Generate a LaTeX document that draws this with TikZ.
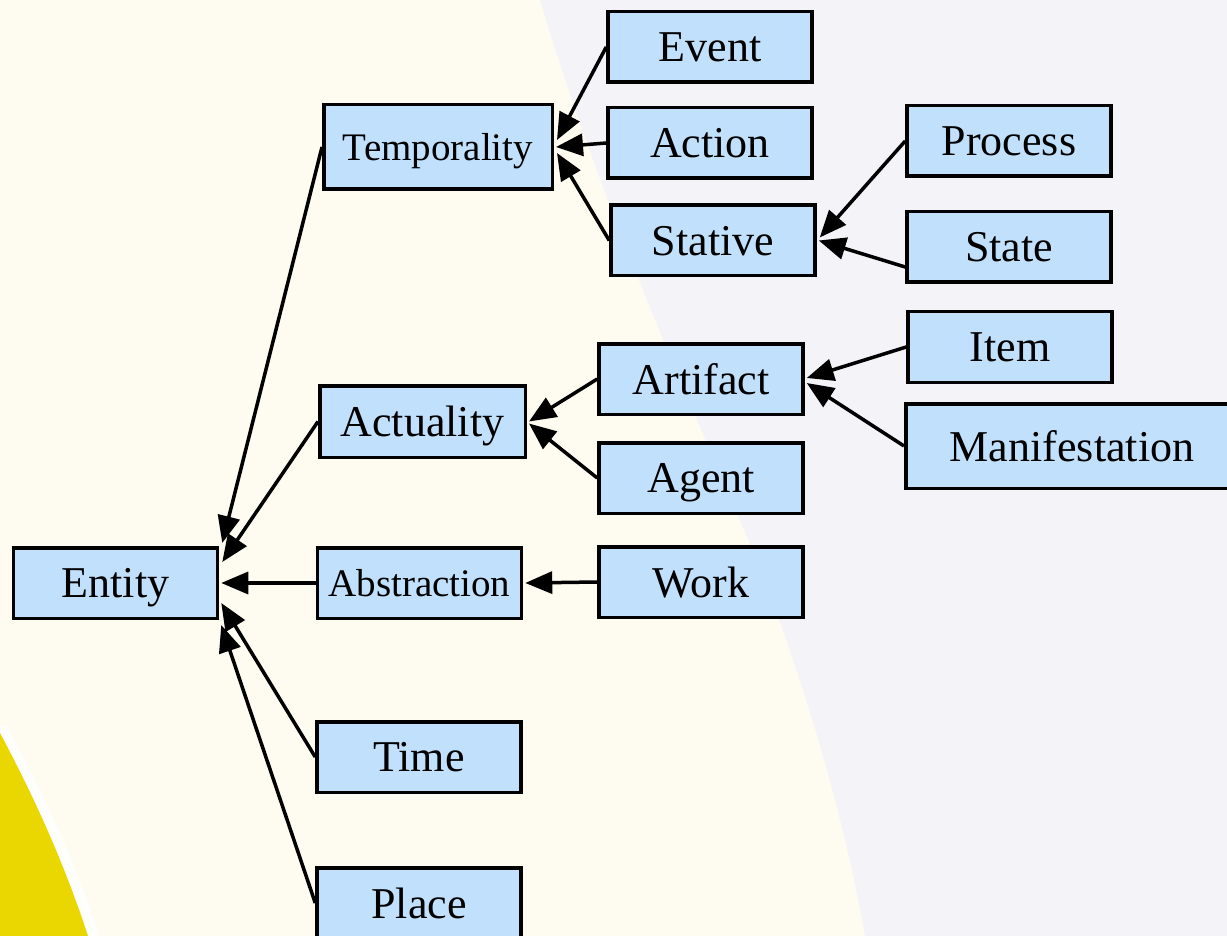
\documentclass[tikz,border=0pt]{standalone}
\usepackage{fontspec}
\setmainfont{Liberation Serif}
\usetikzlibrary{arrows.meta,calc}
\definecolor{cream}{RGB}{254,252,240}
\definecolor{greybg}{RGB}{243,243,248}
\definecolor{yell}{RGB}{234,214,0}
\definecolor{boxblue}{RGB}{192,224,252}
\begin{document}
\begin{tikzpicture}[x=1pt,y=-1pt,
  box/.style={draw=black,line width=3.5pt,fill=boxblue,inner sep=0pt,text depth=0pt,
    minimum width=204pt,minimum height=70.5pt,font=\fontsize{44}{50}\selectfont},
  smallbox/.style={box,font=\fontsize{39}{45}\selectfont},
  conn/.style={line width=3.5pt,-{Triangle[length=27pt,width=22pt]}}]
\useasboundingbox (0,0) rectangle (1227,936);
\clip (0,0) rectangle (1227,936);
% background
\fill[cream] (0,0) rectangle (1227,936);
\fill[greybg] (540,0) .. controls (600,200) and (680,380) .. (740,520)
  .. controls (800,660) and (845,820) .. (865,936) -- (1227,936) -- (1227,0) -- cycle;
\draw[white,opacity=0.8,line width=14pt] (0,728) .. controls (25,775) and (62,845) .. (92,936);
\fill[yell] (0,733) .. controls (25,780) and (60,850) .. (88,936) -- (0,936) -- cycle;
% nodes
\node[box] (entity) at (115.5,583) {Entity};
\node[smallbox,minimum width=228.5pt,minimum height=84.5pt] (temporality) at (438,147) {Temporality};
\node[box,minimum width=205.5pt,minimum height=71.5pt] (actuality) at (422.5,421.5) {Actuality};
\node[smallbox] (abstraction) at (419.5,583) {Abstraction};
\node[box] (time) at (419,757) {Time};
\node[box] (place) at (419,903) {Place};
\node[box] (event) at (710,47) {Event};
\node[box] (action) at (710,143) {Action};
\node[box] (stative) at (713,240.5) {Stative};
\node[box] (artifact) at (701,379) {Artifact};
\node[box] (agent) at (701,478) {Agent};
\node[box] (work) at (701,582) {Work};
\node[box] (process) at (1009,141) {Process};
\node[box] (state) at (1009,247) {State};
\node[box] (item) at (1010,347) {Item};
\node[box,minimum width=332.5pt,minimum height=84.5pt] (manifestation) at (1072,446) {Manifestation};
% connectors
\draw[conn] (temporality.west) -- ([xshift=3pt,yshift=40pt]entity.east);
\draw[conn] (actuality.west) -- ([xshift=3pt,yshift=21pt]entity.east);
\draw[conn] (abstraction.west) -- ([xshift=2pt]entity.east);
\draw[conn] (time.west) -- ([xshift=2pt,yshift=-20pt]entity.east);
\draw[conn] (place.west) -- ([xshift=2pt,yshift=-42pt]entity.east);
\draw[conn] (event.west) -- ([xshift=3pt,yshift=7pt]temporality.east);
\draw[conn] (action.west) -- ([xshift=2pt]temporality.east);
\draw[conn] (stative.west) -- ([xshift=3pt,yshift=-6pt]temporality.east);
\draw[conn] (process.west) -- ([xshift=3pt,yshift=3pt]stative.east);
\draw[conn] ([yshift=-20pt]state.west) -- ([xshift=2pt]stative.east);
\draw[conn] (artifact.west) -- ([xshift=2pt]actuality.east);
\draw[conn] (agent.west) -- ([xshift=2pt,yshift=-2pt]actuality.east);
\draw[conn] (item.west) -- ([xshift=2pt,yshift=1pt]artifact.east);
\draw[conn] (manifestation.west) -- ([xshift=2pt,yshift=-4pt]artifact.east);
\draw[conn] (work.west) -- ([xshift=2pt]abstraction.east);
\end{tikzpicture}
\end{document}
